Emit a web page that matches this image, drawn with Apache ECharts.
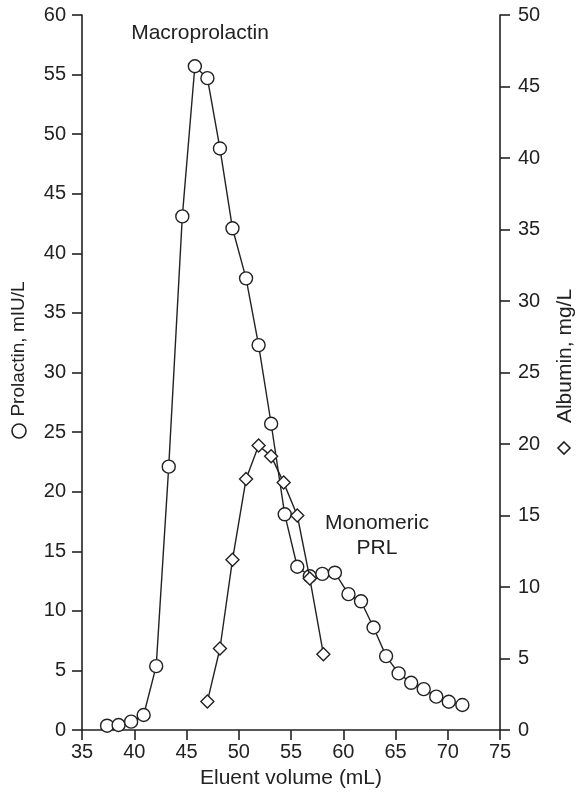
<!DOCTYPE html>
<html>
<head>
<meta charset="utf-8">
<script src="https://cdn.jsdelivr.net/npm/echarts@6/dist/echarts.min.js"></script>
<style>
  html, body { margin: 0; padding: 0; background: #fff; }
  #chart { width: 578px; height: 801px; }
</style>
</head>
<body>
<div id="chart"></div>
<script>
// Gel filtration fractions: prolactin (left axis) and albumin (right axis)
const prolactinVolume = [37.4, 38.5, 39.7, 40.9, 42.1, 43.3, 44.6, 45.8, 47.0, 48.2,
  49.4, 50.7, 51.9, 53.1, 54.4, 55.6, 56.8, 58.0, 59.2, 60.5,
  61.7, 62.9, 64.1, 65.3, 66.5, 67.7, 68.9, 70.1, 71.4];
const prolactin = [0.36, 0.42, 0.7, 1.26, 5.36, 22.1, 43.1, 55.7, 54.7, 48.8,
  42.1, 37.9, 32.3, 25.7, 18.1, 13.7, 12.9, 13.1, 13.2, 11.4,
  10.8, 8.6, 6.2, 4.75, 3.96, 3.43, 2.8, 2.37, 2.1];

const albuminVolume = [47.0, 48.2, 49.4, 50.7, 51.9, 53.1, 54.3, 55.6, 56.8, 58.1];
const albumin = [2.0, 5.7, 11.9, 17.55, 19.9, 19.15, 17.3, 15.0, 10.6, 5.3];

const xTicks = { min: 35, max: 75, step: 5 };
const leftTicks = { min: 0, max: 60, step: 5 };
const rightTicks = { min: 0, max: 50, step: 5 };

const ink = '#222';
const fontFamily = '"Liberation Sans", Arial, Helvetica, sans-serif';

const pair = (xs, ys) => xs.map((x, i) => [x, ys[i]]);

const axisCommon = {
  axisLine: { show: true, onZero: false, lineStyle: { color: ink, width: 1.6 } },
  axisTick: { show: true, inside: false, length: 10, lineStyle: { color: ink, width: 1.6 } },
  splitLine: { show: false },
  axisLabel: { color: ink, fontSize: 20, fontFamily: fontFamily }
};

const chart = echarts.init(document.getElementById('chart'), null, { renderer: 'canvas' });

// key symbols drawn beside the rotated axis titles
const keyStyle = { fill: '#fff', stroke: ink, lineWidth: 1.6 };

chart.setOption({
  animation: false,
  backgroundColor: '#fff',
  grid: { left: 82, right: 78, top: 15, bottom: 71, containLabel: false },
  xAxis: Object.assign({}, axisCommon, {
    type: 'value',
    min: xTicks.min, max: xTicks.max, interval: xTicks.step,
    axisLabel: Object.assign({}, axisCommon.axisLabel, { margin: 12 })
  }),
  yAxis: [
    Object.assign({}, axisCommon, {
      type: 'value', position: 'left',
      min: leftTicks.min, max: leftTicks.max, interval: leftTicks.step,
      axisLabel: Object.assign({}, axisCommon.axisLabel, { margin: 16 })
    }),
    Object.assign({}, axisCommon, {
      type: 'value', position: 'right',
      min: rightTicks.min, max: rightTicks.max, interval: rightTicks.step,
      axisLabel: Object.assign({}, axisCommon.axisLabel, { margin: 18 })
    })
  ],
  graphic: [
    { type: 'text', x: 200, y: 33, z: 10,
      style: { text: 'Macroprolactin', fill: ink, font: '21px ' + fontFamily, align: 'center', verticalAlign: 'middle' } },
    { type: 'text', x: 377, y: 536, z: 10,
      style: { text: 'Monomeric\nPRL', fill: ink, font: '21px ' + fontFamily, align: 'center', verticalAlign: 'middle', lineHeight: 25 } },
    { type: 'text', x: 291, y: 778, z: 10,
      style: { text: 'Eluent volume (mL)', fill: ink, font: '21px ' + fontFamily, align: 'center', verticalAlign: 'middle' } },
    { type: 'text', x: 19, y: 349, rotation: Math.PI / 2, z: 10,
      style: { text: 'Prolactin, mIU/L', fill: ink, font: '19px ' + fontFamily, align: 'center', verticalAlign: 'middle' } },
    { type: 'circle', z: 10, shape: { cx: 19, cy: 431, r: 7 }, style: keyStyle },
    { type: 'text', x: 565, y: 356, rotation: Math.PI / 2, z: 10,
      style: { text: 'Albumin, mg/L', fill: ink, font: '21px ' + fontFamily, align: 'center', verticalAlign: 'middle' } },
    { type: 'polygon', z: 10, shape: { points: [[564, 442], [570, 448], [564, 454], [558, 448]] }, style: keyStyle }
  ],
  series: [
    {
      name: 'Prolactin',
      type: 'line',
      yAxisIndex: 0,
      data: pair(prolactinVolume, prolactin),
      symbol: 'circle',
      symbolSize: 13,
      showAllSymbol: true,
      lineStyle: { color: ink, width: 1.4 },
      itemStyle: { color: '#fff', borderColor: ink, borderWidth: 1.4 },
      z: 2
    },
    {
      name: 'Albumin',
      type: 'line',
      yAxisIndex: 1,
      data: pair(albuminVolume, albumin),
      symbol: 'diamond',
      symbolSize: 13,
      showAllSymbol: true,
      lineStyle: { color: ink, width: 1.4 },
      itemStyle: { color: '#fff', borderColor: ink, borderWidth: 1.4 },
      z: 3
    }
  ]
});
</script>
</body>
</html>
